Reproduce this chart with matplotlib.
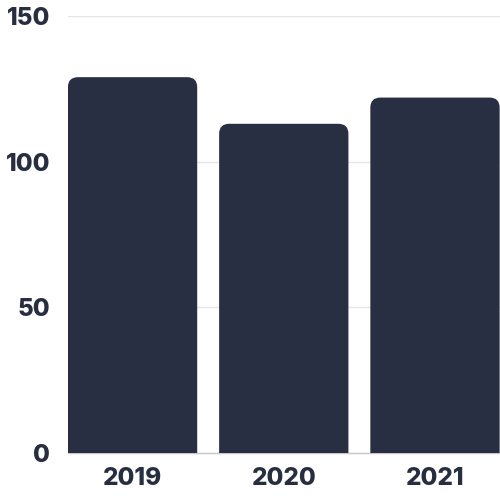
import matplotlib
matplotlib.use("Agg")
import matplotlib.pyplot as plt
from matplotlib.patches import FancyBboxPatch

categories = ["2019", "2020", "2021"]
values = [129, 113, 122]
yticks = [0, 50, 100, 150]

bar_color = "#282f42"
text_color = "#272e3f"

fig = plt.figure(figsize=(5, 5), dpi=100)
ax = fig.add_axes([0.136, 0.094, 0.864, 0.874])

x = list(range(len(categories)))
width = 0.855
bars = ax.bar(x, values, width=width, color=bar_color, zorder=2)

ax.set_xlim(-0.427, 2.43)
ax.set_ylim(0, 150)
fig.canvas.draw()

px_per_x = ax.transData.transform((1, 0))[0] - ax.transData.transform((0, 0))[0]
px_per_y = ax.transData.transform((0, 1))[1] - ax.transData.transform((0, 0))[1]
r_px = 10
rx = r_px / px_per_x
aspect = px_per_x / px_per_y

for b in bars:
    x0, w, h = b.get_x(), b.get_width(), b.get_height()
    b.set_visible(False)
    p = FancyBboxPatch((x0, -20), w, h + 20,
                       boxstyle=f"round,pad=0,rounding_size={rx}",
                       mutation_aspect=aspect,
                       facecolor=bar_color, edgecolor="none", zorder=2)
    ax.add_patch(p)

ax.set_yticks(yticks)
ax.set_xticks(x)
ax.set_xticklabels(categories)
ax.grid(axis="y", color="#e6e6e6", linewidth=1, zorder=0)
ax.set_axisbelow(True)
for s in ["top", "right", "left"]:
    ax.spines[s].set_visible(False)
ax.spines["bottom"].set_color("#c8c8cc")
ax.spines["bottom"].set_linewidth(1)
ax.spines["bottom"].set_zorder(1)
ax.tick_params(axis="both", length=0, labelsize=17.5, labelcolor=text_color)
ax.tick_params(axis="y", pad=13)
ax.tick_params(axis="x", pad=10)
for lab in ax.get_xticklabels() + ax.get_yticklabels():
    lab.set_fontfamily("Inter")
    lab.set_fontweight("heavy")

fig.savefig("out.png", dpi=100)
